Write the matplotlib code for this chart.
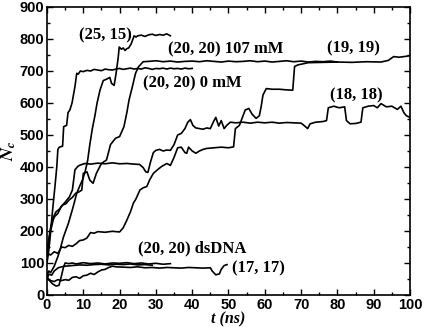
import matplotlib
matplotlib.use("Agg")
import matplotlib.pyplot as plt
from matplotlib.ticker import MultipleLocator

plt.rcParams["font.family"] = ["Liberation Sans", "DejaVu Sans"]
plt.rcParams["font.weight"] = "bold"
plt.rcParams["mathtext.fontset"] = "stix"

# ---- data (t in ns, Nc) ----
t_20_20_0mM = [0, 0.4, 0.8, 1.5, 2.2, 2.7, 3.0, 3.4, 4.3, 4.6, 5.4, 5.8, 6.3, 6.9, 7.7, 8.2, 8.6, 9.2, 10, 11, 12, 13, 14, 15, 16, 17, 18, 19, 20, 21, 22, 23, 24, 25, 26, 27, 28, 29, 30, 31, 32, 33, 34, 35, 36, 37, 38, 39, 40]
n_20_20_0mM = [100, 130, 172, 260, 340, 400, 455, 462, 465, 526, 530, 570, 578, 600, 651, 693, 690, 700, 698, 702, 700, 705, 703, 701, 706, 704, 703, 706, 708, 705, 707, 709, 706, 708, 706, 710, 708, 705, 708, 707, 709, 706, 709, 707, 708, 706, 709, 707, 708]

t_25_15 = [0, 0.5, 1, 2, 3, 3.6, 4.5, 5.9, 7.2, 8.2, 9.0, 9.8, 10.5, 11.2, 11.8, 12.5, 13.2, 13.8, 14.6, 15.5, 16.5, 17.3, 17.8, 18.5, 19.0, 19.6, 19.9, 20.5, 21.0, 21.5, 22.0, 22.5, 23.2, 24.0, 24.5, 25, 26, 27, 28, 29, 30, 31, 32, 33, 34]
n_25_15 = [60, 75, 70, 90, 120, 141, 180, 224, 275, 318, 340, 360, 385, 420, 470, 520, 560, 600, 640, 670, 675, 680, 661, 655, 690, 740, 775, 768, 772, 764, 770, 772, 785, 810, 806, 810, 812, 808, 813, 815, 811, 814, 812, 816, 810]

t_20_20_107mM = [0, 0.8, 1.6, 2.5, 3.4, 4.3, 5.2, 6.1, 7.0, 7.9, 8.8, 9.6, 10.0, 11.0, 11.8, 12.7, 13.6, 15.0, 16.4, 17.5, 18.9, 20.0, 21.2, 22.0, 22.6, 23.5, 24.4, 25.2, 26.5, 28, 30, 32, 34, 36, 38, 40, 42, 44, 46, 48, 50, 52, 54, 56, 58, 60, 62, 64, 66, 68, 70, 72, 74, 76, 78, 80]
n_20_20_107mM = [110, 200, 240, 260, 268, 281, 285, 297, 305, 318, 322, 328, 380, 385, 359, 349, 380, 411, 422, 470, 490, 495, 526, 570, 609, 650, 693, 713, 729, 730, 732, 729, 731, 728, 730, 731, 729, 732, 730, 728, 731, 729, 730, 732, 729, 731, 728, 730, 732, 729, 731, 728, 730, 729, 731, 728]

t_19_19 = [0, 1, 2, 3, 4, 5, 6, 7, 8, 9, 10, 11, 12, 13, 14, 16, 18, 20, 21, 22, 23, 23.8, 24.5, 25.6, 26.5, 27.5, 28.3, 29.3, 30.5, 31.5, 33, 34, 35, 36, 37, 38, 38.5, 39, 40, 41, 42, 43, 44, 46, 48, 50, 51.4, 51.9, 53, 54.6, 55.6, 56.5, 57.6, 58.5, 59, 59.5, 60.4, 62, 64, 66, 67.7, 68.2, 69.1, 72, 76, 80, 84, 88, 92, 94, 95.5, 97, 99, 100]
n_19_19 = [130, 125, 135, 130, 150, 148, 155, 152, 160, 170, 172, 178, 195, 193, 198, 196, 199, 197, 210, 234, 260, 287, 300, 328, 335, 339, 360, 380, 392, 401, 411, 405, 430, 460, 462, 445, 443, 462, 450, 443, 450, 455, 458, 460, 462, 460, 463, 520, 530, 578, 583, 565, 552, 560, 589, 625, 645, 643, 643, 641, 640, 714, 719, 726, 727, 728, 727, 729, 728, 733, 745, 743, 746, 748]

t_18_18 = [0, 0.5, 1, 1.7, 2.1, 3, 3.9, 5, 6.2, 7, 7.7, 8.5, 9.1, 10.5, 12, 14, 16, 18, 20, 22, 24, 25.5, 26.5, 27.2, 27.8, 28.5, 29.3, 30, 31, 32, 33, 34, 35, 36, 37, 38, 38.8, 39.5, 40.2, 41, 42, 43, 44, 45, 45.8, 46.5, 47.3, 48, 48.8, 49.5, 50.5, 52, 54, 56, 58, 60, 62, 64, 66, 68, 70, 71, 71.8, 72.5, 74, 76, 77, 77.5, 79, 80.5, 82, 82.5, 83.5, 85, 86.5, 87, 88.5, 90, 91, 92, 93.5, 95, 96.5, 97.5, 98.3, 99, 100]
n_18_18 = [140, 175, 200, 234, 245, 255, 276, 290, 307, 328, 391, 402, 406, 411, 409, 412, 410, 413, 410, 411, 409, 408, 398, 385, 383, 415, 445, 452, 455, 450, 453, 452, 470, 500, 505, 520, 540, 548, 530, 522, 520, 518, 522, 520, 540, 555, 528, 545, 520, 530, 540, 538, 540, 537, 540, 538, 540, 537, 539, 538, 537, 528, 520, 535, 540, 542, 545, 585, 590, 585, 588, 545, 535, 536, 540, 585, 590, 592, 585, 598, 588, 590, 580, 590, 570, 560, 555]

t_dsDNA = [0, 0.7, 1.5, 2.5, 3.3, 4.0, 4.5, 5, 6, 7, 8, 9, 10, 12, 14, 16, 18, 20, 22, 24, 26, 28, 30, 32, 34]
n_dsDNA = [57, 45, 35, 28, 30, 60, 85, 100, 98, 100, 97, 99, 101, 98, 100, 97, 100, 99, 101, 98, 100, 97, 99, 96, 98]

t_dsDNA_b = [0, 0.5, 1.3, 2, 3.1, 4, 5, 7, 9, 11, 13, 15, 17, 19, 21, 23, 25, 27, 29]
n_dsDNA_b = [50, 65, 62, 75, 85, 88, 90, 92, 94, 93, 95, 96, 94, 96, 95, 97, 94, 95, 93]

t_17_17 = [0, 1, 2, 3, 4, 5, 6, 7, 8, 9, 10, 11, 12, 13, 14, 15, 16, 17, 18, 19, 21, 23, 25, 27, 29, 31, 33, 35, 37, 39, 41, 43, 45, 45.5, 46.5, 47.5, 48, 48.8, 49.6]
n_17_17 = [50, 45, 42, 48, 45, 48, 46, 55, 57, 52, 60, 62, 68, 64, 72, 78, 80, 86, 90, 88, 87, 86, 88, 85, 86, 84, 86, 85, 84, 86, 85, 84, 85, 75, 63, 66, 80, 92, 95]

series = [
    (t_20_20_0mM, n_20_20_0mM),
    (t_25_15, n_25_15),
    (t_20_20_107mM, n_20_20_107mM),
    (t_19_19, n_19_19),
    (t_18_18, n_18_18),
    (t_dsDNA, n_dsDNA),
    (t_dsDNA_b, n_dsDNA_b),
    (t_17_17, n_17_17),
]

labels = ["(25, 15)", "(20, 20) 107 mM", "(19, 19)", "(20, 20) 0 mM", "(18, 18)", "(20, 20) dsDNA", "(17, 17)"]
label_t = [8.8, 33.3, 77.1, 26.4, 78.0, 25.1, 51.0]
label_n = [812, 766, 772, 662, 625, 147, 84]

fig = plt.figure(figsize=(4.24, 3.27), dpi=100)
ax = fig.add_axes([0.1108, 0.0979, 0.8562, 0.8807])

for t, n in series:
    ax.plot(t, n, color="black", lw=1.2)

for s, x, y in zip(labels, label_t, label_n):
    ax.text(x, y, s, fontsize=12, fontweight="bold", family="Liberation Serif",
            ha="left", va="center")

ax.set_xlim(0, 100)
ax.set_ylim(0, 900)
ax.xaxis.set_major_locator(MultipleLocator(10))
ax.xaxis.set_minor_locator(MultipleLocator(5))
ax.yaxis.set_major_locator(MultipleLocator(100))
ax.yaxis.set_minor_locator(MultipleLocator(50))
ax.tick_params(which="both", direction="in", top=True, right=True, width=1.0)
ax.tick_params(which="major", length=4.5, pad=2, labelsize=10.5)
ax.tick_params(which="minor", length=2.5)
for sp in ax.spines.values():
    sp.set_linewidth(1.2)

ax.set_xlabel("t (ns)", fontsize=11.5, family="Liberation Serif", style="italic",
              fontweight="bold", labelpad=0)
ax.set_ylabel(r"$\mathit{N_c}$", fontsize=13, labelpad=1)

fig.savefig("out.png", dpi=100)
